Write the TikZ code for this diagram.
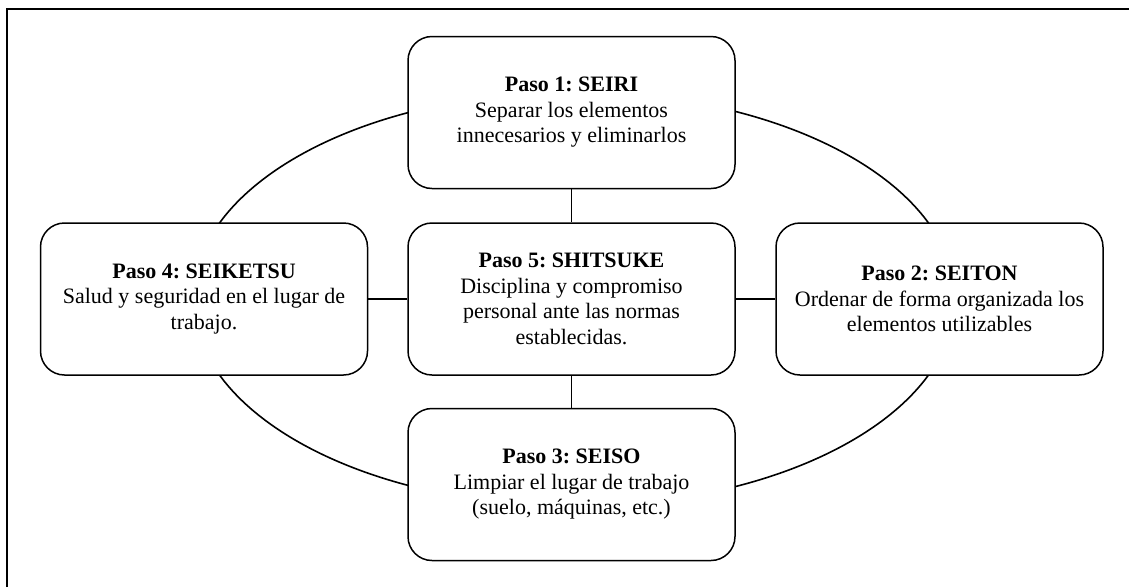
\documentclass[tikz,border=0pt]{standalone}
\usepackage{fontspec}
\setmainfont{Liberation Serif}
\begin{document}
\frenchspacing
\begin{tikzpicture}[x=1pt,y=-1pt,
  stepbox/.style={draw, line width=1.5pt, rounded corners=24pt, fill=white,
    minimum width=327pt, minimum height=152pt, inner sep=0pt, align=center,
    font=\fontsize{22}{25.5}\selectfont},
  link/.style={line width=1.6pt}]
\useasboundingbox (0,0) rectangle (1129,587);
% page frame: top and left rules
\draw[line width=2.4pt] (7,587) -- (7,9) -- (1129,9);
% ring joining the four outer steps
\draw[link] (574,299) ellipse [x radius=381pt, y radius=207pt];
% the five steps
\node[stepbox] (s1) at (571.5,112.5) {\textbf{Paso 1: SEIRI}\\Separar los elementos\\innecesarios y eliminarlos};
\node[stepbox] (s5) at (571.5,299) {\textbf{Paso 5: SHITSUKE}\\Disciplina y compromiso\\personal ante las normas\\establecidas.};
\node[stepbox] (s3) at (571.5,484.5) {\textbf{Paso 3: SEISO}\\Limpiar el lugar de trabajo\\(suelo, máquinas, etc.)};
\node[stepbox] (s4) at (204,299) {\textbf{Paso 4: SEIKETSU}\\Salud y seguridad en el lugar de\\trabajo.};
\node[stepbox] (s2) at (939.5,299) {\textbf{Paso 2: SEITON}\\Ordenar de forma organizada los\\elementos utilizables};
% spokes from the centre step
\draw[link] (s1) -- (s5);
\draw[link] (s5) -- (s3);
\draw[link] (s4) -- (s5);
\draw[link] (s5) -- (s2);
\end{tikzpicture}
\end{document}
